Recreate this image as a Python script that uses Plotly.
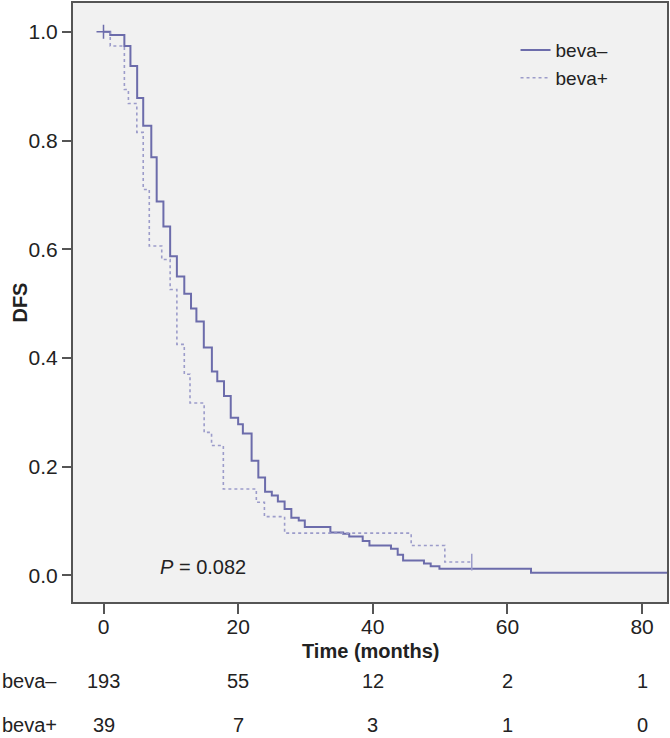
import plotly.graph_objects as go

# ---- data ----
beva_minus_time = [0, 1.0, 3.1, 4.0, 5.0, 5.9, 7.1, 7.9, 8.9, 9.9, 10.9, 12.0, 13.0, 13.8, 14.9,
                   16.1, 16.9, 17.9, 18.9, 20.0, 20.7, 22.0, 23.0, 24.0, 25.0, 25.9, 26.9, 27.9,
                   29.0, 29.9, 33.7, 35.6, 36.5, 38.5, 39.5, 42.7, 43.7, 44.5, 47.6, 48.6, 49.9,
                   63.5, 83.7]
beva_minus_dfs = [1.0, 0.994, 0.974, 0.937, 0.878, 0.827, 0.769, 0.688, 0.642, 0.587, 0.550, 0.518,
                  0.491, 0.467, 0.419, 0.375, 0.357, 0.330, 0.290, 0.278, 0.261, 0.211, 0.180,
                  0.154, 0.147, 0.136, 0.122, 0.106, 0.101, 0.089, 0.079, 0.0765, 0.0716, 0.063,
                  0.055, 0.049, 0.038, 0.0275, 0.022, 0.017, 0.0123, 0.005, 0.005]

beva_plus_time = [0, 1.0, 3.1, 3.7, 4.95, 5.9, 6.8, 8.65, 9.9, 10.9, 12.0, 12.85, 14.95, 16.05,
                  17.8, 22.7, 23.9, 26.9, 45.7, 50.7, 54.7]
beva_plus_dfs = [1.0, 0.974, 0.894, 0.868, 0.815, 0.71, 0.606, 0.581, 0.526, 0.425, 0.370, 0.317,
                 0.263, 0.239, 0.159, 0.1345, 0.108, 0.0777, 0.055, 0.0245, 0.0245]

risk_times = [0, 20, 40, 60, 80]
risk_minus = [193, 55, 12, 2, 1]
risk_plus = [39, 7, 3, 1, 0]
group_labels = ["beva–", "beva+"]

x_ticks = [0, 20, 40, 60, 80]
y_ticks = [0.0, 0.2, 0.4, 0.6, 0.8, 1.0]

SOLID = "#6c6cab"
DASH = "#9c9cca"
FONT = "Liberation Sans, Arial, sans-serif"
TXT = "#222222"

fig = go.Figure()
fig.add_trace(go.Scatter(
    x=beva_minus_time, y=beva_minus_dfs, mode="lines", line_shape="hv",
    line=dict(color=SOLID, width=2), name=group_labels[0]))
fig.add_trace(go.Scatter(
    x=beva_plus_time, y=beva_plus_dfs, mode="lines", line_shape="hv",
    line=dict(color=DASH, width=1.6, dash="3px,3px"), name=group_labels[1]))
# censor marks
fig.add_trace(go.Scatter(
    x=[beva_minus_time[0]], y=[beva_minus_dfs[0]], mode="markers", showlegend=False,
    marker=dict(symbol="cross-thin", size=10, line=dict(color=SOLID, width=1.5))))
fig.add_trace(go.Scatter(
    x=[beva_plus_time[-1]], y=[beva_plus_dfs[-1]], mode="markers", showlegend=False,
    marker=dict(symbol="line-ns", size=12, line=dict(color=DASH, width=1.5))))

ROW1, ROW2 = -0.1314, -0.2047
ann = []
for t, a, b in zip(risk_times, risk_minus, risk_plus):
    ann.append(dict(x=t, y=ROW1, xref="x", yref="paper", text=str(a), showarrow=False,
                    font=dict(size=20, color=TXT, family=FONT), xanchor="center", yanchor="middle"))
    ann.append(dict(x=t, y=ROW2, xref="x", yref="paper", text=str(b), showarrow=False,
                    font=dict(size=20, color=TXT, family=FONT), xanchor="center", yanchor="middle"))
for lab, yy in zip(group_labels, [ROW1, ROW2]):
    ann.append(dict(x=-0.1227, y=yy, xref="paper", yref="paper", text=lab, showarrow=False,
                    font=dict(size=20, color=TXT, family=FONT), xanchor="left", yanchor="middle"))
ann.append(dict(x=0.5, y=-0.0815, xref="paper", yref="paper", text="<b>Time (months)</b>",
                showarrow=False, font=dict(size=20, color=TXT, family=FONT),
                xanchor="center", yanchor="middle"))
ann.append(dict(x=-0.0908, y=0.5, xref="paper", yref="paper", text="<b>DFS</b>", textangle=-90,
                showarrow=False, font=dict(size=20, color=TXT, family=FONT),
                xanchor="center", yanchor="middle"))
ann.append(dict(x=8.1, y=0.015, xref="x", yref="y", text="<i>P</i> = 0.082", showarrow=False,
                font=dict(size=20, color=TXT, family=FONT), xanchor="left", yanchor="middle"))

fig.update_layout(
    width=670, height=738,
    margin=dict(l=73, r=2, t=1, b=136),
    paper_bgcolor="white", plot_bgcolor="#f1f1f1",
    font=dict(family=FONT, size=20, color=TXT),
    showlegend=True,
    legend=dict(x=0.745, y=0.953, xanchor="left", yanchor="top", bgcolor="rgba(0,0,0,0)",
                font=dict(size=19, color=TXT, family=FONT), tracegroupgap=0),
    annotations=ann,
)
fig.update_xaxes(range=[-4.53, 83.7], tickvals=x_ticks, ticktext=[str(v) for v in x_ticks],
                 showgrid=False, zeroline=False, showline=True, linecolor="#555555", linewidth=2,
                 mirror=True, ticks="outside", ticklen=10, tickwidth=2, tickcolor="#555555",
                 ticklabelstandoff=-5,
                 tickfont=dict(size=21, color=TXT, family=FONT))
fig.update_yaxes(range=[-0.049, 1.053], tickvals=y_ticks, ticktext=[f"{v:.1f}" for v in y_ticks],
                 showgrid=False, zeroline=False, showline=True, linecolor="#555555", linewidth=2,
                 mirror=True, ticks="outside", ticklen=9, tickwidth=2, tickcolor="#555555",
                 tickfont=dict(size=21, color=TXT, family=FONT))

fig.write_html("out.html", config={"displayModeBar": False},
               post_script="document.body.style.margin='0';document.body.style.padding='0';")
